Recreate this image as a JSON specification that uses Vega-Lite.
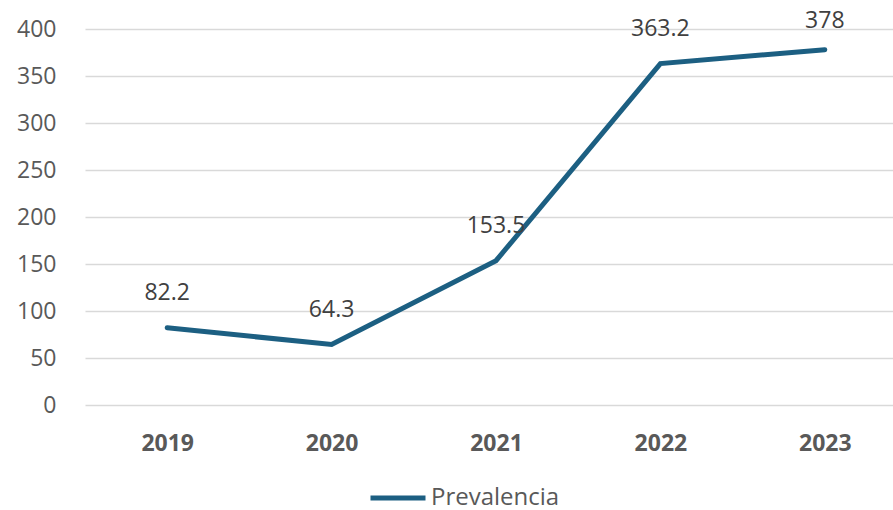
{
  "$schema": "https://vega.github.io/schema/vega-lite/v6.json",
  "autosize": "none",
  "width": 808,
  "height": 376,
  "padding": {"left": 85, "top": 29, "right": 0, "bottom": 105},
  "background": "white",
  "config": {"view": {"stroke": null}, "font": "Open Sans"},
  "data": {"values": [
    {"year": "2019", "value": 82.2, "serie": "Prevalencia"},
    {"year": "2020", "value": 64.3, "serie": "Prevalencia"},
    {"year": "2021", "value": 153.5, "serie": "Prevalencia"},
    {"year": "2022", "value": 363.2, "serie": "Prevalencia"},
    {"year": "2023", "value": 378, "serie": "Prevalencia"}
  ]},
  "encoding": {
    "x": {"field": "year", "type": "ordinal",
      "scale": {"type": "point", "padding": 0.5, "range": [0, 822]},
      "axis": {"title": null, "labelAngle": 0, "domain": false, "ticks": false, "grid": false,
        "labelFont": "Open Sans", "labelFontSize": 23, "labelFontWeight": "bold", "labelColor": "#595959", "labelPadding": 27}},
    "y": {"field": "value", "type": "quantitative",
      "scale": {"domain": [0, 400], "nice": false},
      "axis": {"title": null, "values": [0, 50, 100, 150, 200, 250, 300, 350, 400], "domain": false, "ticks": false,
        "gridColor": "#d9d9d9", "gridWidth": 1.5, "labelFont": "Open Sans", "labelFontSize": 23, "labelColor": "#595959", "labelPadding": 29}}
  },
  "layer": [
    {"mark": {"type": "line", "strokeWidth": 5, "strokeCap": "round", "strokeJoin": "miter"},
     "encoding": {"color": {"field": "serie", "type": "nominal",
       "scale": {"range": ["#1c5f82"]},
       "legend": {"title": null, "orient": "none", "legendX": 283, "legendY": 439, "symbolType": "stroke", "symbolSize": 3025, "symbolStrokeWidth": 5,
         "labelFont": "Open Sans", "labelFontSize": 24, "labelColor": "#595959", "labelOffset": 3}}}},
    {"transform": [{"filter": "datum.year != '2023'"}],
     "mark": {"type": "text", "dy": -35, "fontSize": 23, "font": "Open Sans", "color": "#404040"},
     "encoding": {"text": {"field": "value", "type": "quantitative"}}},
    {"transform": [{"filter": "datum.year == '2023'"}],
     "mark": {"type": "text", "dy": -29, "fontSize": 23, "font": "Open Sans", "color": "#404040"},
     "encoding": {"text": {"field": "value", "type": "quantitative"}}}
  ]
}
